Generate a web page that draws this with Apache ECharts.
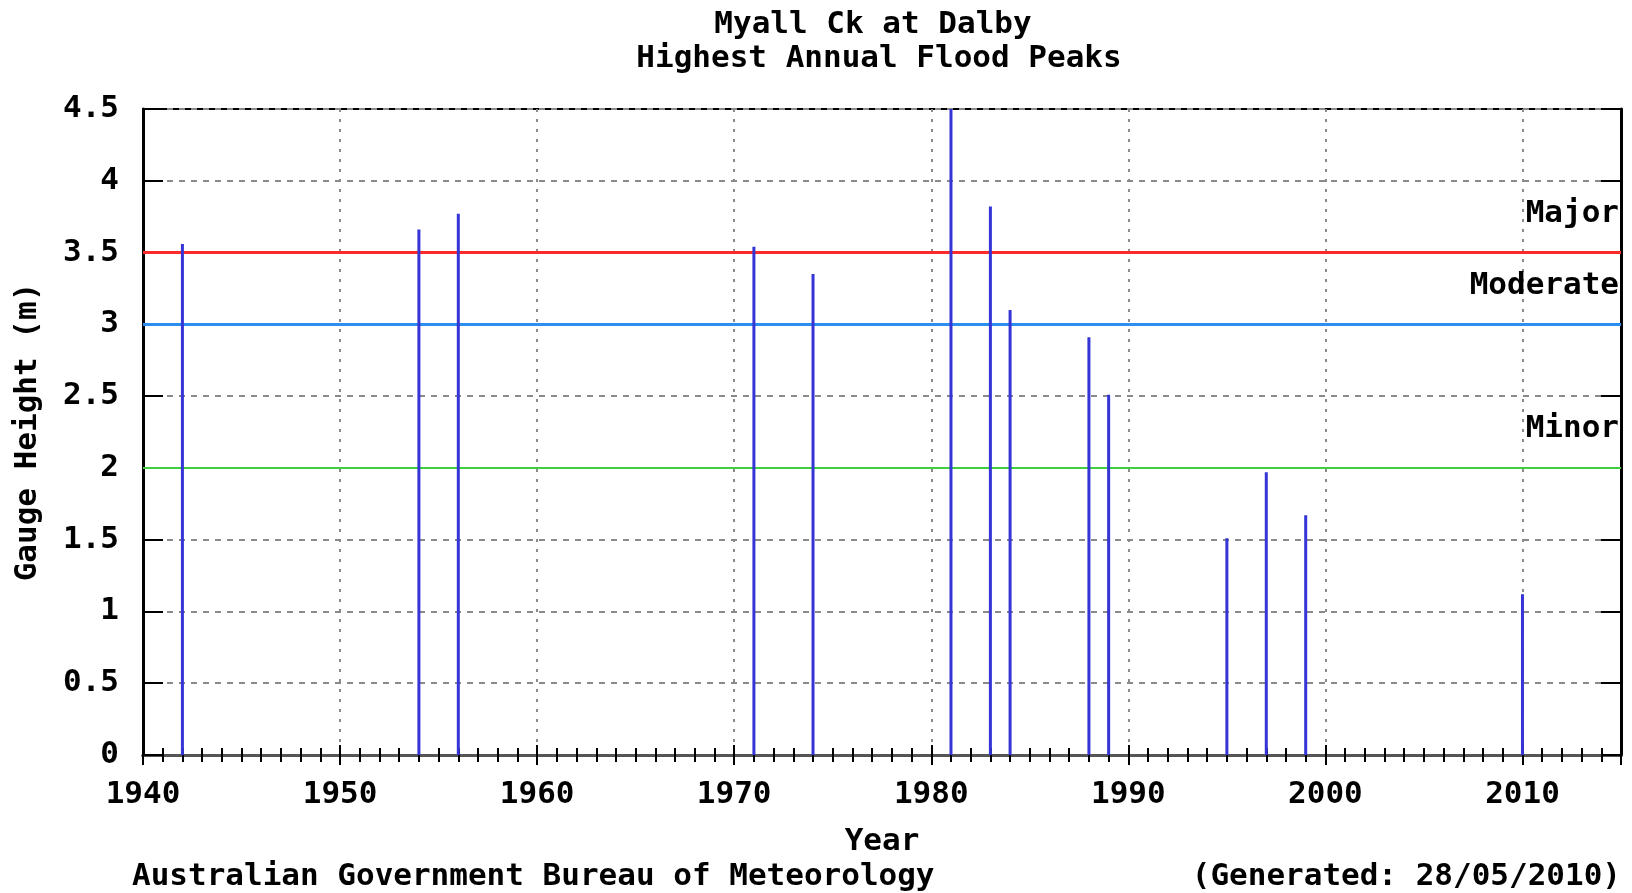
<!DOCTYPE html>
<html>
<head>
<meta charset="utf-8">
<script src="https://cdn.jsdelivr.net/npm/echarts@6/dist/echarts.min.js"></script>
<style>html,body{margin:0;padding:0;background:#fff;}#c{width:1632px;height:893px;}</style>
</head>
<body>
<div id="c"></div>
<script>
const years = [1942, 1954, 1956, 1971, 1974, 1981, 1983, 1984, 1988, 1989, 1995, 1997, 1999, 2010];
const peaks = [3.56, 3.66, 3.77, 3.54, 3.35, 4.5, 3.82, 3.10, 2.91, 2.51, 1.51, 1.97, 1.67, 1.12];
const floodLevels = [
  {name: 'Major', value: 3.5, color: '#ff2a2a', width: 3},
  {name: 'Moderate', value: 3.0, color: '#2b8ff0', width: 3},
  {name: 'Minor', value: 2.0, color: '#3fcf3f', width: 2}
];
const titleLines = ['Myall Ck at Dalby', 'Highest Annual Flood Peaks'];
const footerLeft = 'Australian Government Bureau of Meteorology';
const footerRight = '(Generated: 28/05/2010)';

const FONT = '"DejaVu Sans Mono", monospace';
const FS = 31;
const txt = {fontFamily: FONT, fontWeight: 'bold', fontSize: FS, color: '#000'};
const chart = echarts.init(document.getElementById('c'), null, {renderer: 'canvas'});
const grid = {left: 143, right: 11, top: 109, bottom: 138, show: true, borderColor: '#000', borderWidth: 2, backgroundColor: 'transparent'};
const xBase = {
  type: 'value', min: 1940, max: 2015, interval: 10,
  axisLine: {show: true, lineStyle: {color: '#000', width: 3}},
  axisTick: {show: true, inside: true, length: 10, lineStyle: {color: '#000', width: 2}},
  minorTick: {show: true, splitNumber: 10, length: 7, lineStyle: {color: '#000', width: 2}},
};
const yBase = {
  type: 'value', min: 0, max: 4.5, interval: 0.5,
  axisLine: {show: true, lineStyle: {color: '#000', width: 3}},
  axisTick: {show: true, inside: true, length: 20, lineStyle: {color: '#000', width: 2}},
};
chart.setOption({
  animation: false,
  backgroundColor: '#fff',
  title: [
    {text: titleLines[0], left: 868, top: 4, textAlign: 'center', textStyle: txt},
    {text: titleLines[1], left: 874, top: 38, textAlign: 'center', textStyle: txt},
    {text: footerLeft, left: 127, top: 856, textStyle: txt},
    {text: footerRight, right: 6, top: 856, textStyle: txt}
  ],
  grid: grid,
  xAxis: [
    Object.assign({}, xBase, {
      position: 'bottom',
      name: 'Year', nameLocation: 'middle', nameGap: 71,
      nameTextStyle: txt,
      axisLabel: Object.assign({}, txt, {margin: 24, showMaxLabel: false, formatter: v => String(v)}),
      splitLine: {show: true, lineStyle: {color: '#8a8a8a', width: 2, type: [3, 7]}}
    }),
    Object.assign({}, xBase, {
      position: 'top', axisLabel: {show: false}, splitLine: {show: false},
      axisLine: {show: true, lineStyle: {color: '#555', width: 3}}
    })
  ],
  yAxis: [
    Object.assign({}, yBase, {
      position: 'left',
      name: 'Gauge Height (m)', nameLocation: 'middle', nameGap: 100, nameRotate: 90,
      nameTextStyle: txt,
      axisLabel: Object.assign({}, txt, {margin: 24}),
      splitLine: {show: true, lineStyle: {color: '#8a8a8a', width: 2, type: [6, 6]}}
    }),
    Object.assign({}, yBase, {
      position: 'right', axisLabel: {show: false}, splitLine: {show: false}
    })
  ],
  series: [{
    type: 'bar',
    xAxisIndex: 0, yAxisIndex: 0,
    barWidth: 3,
    itemStyle: {color: '#3535d6'},
    data: years.map((y, i) => [y, peaks[i]]),
    z: 3,
    markLine: {
      silent: true,
      symbol: 'none',
      z: 2,
      data: floodLevels.map(l => ({
        yAxis: l.value,
        lineStyle: {color: l.color, width: l.width, type: 'solid'},
        label: Object.assign({show: true, formatter: l.name, position: 'insideEndTop', distance: [2, 23]}, txt)
      }))
    }
  }]
});
</script>
</body>
</html>
